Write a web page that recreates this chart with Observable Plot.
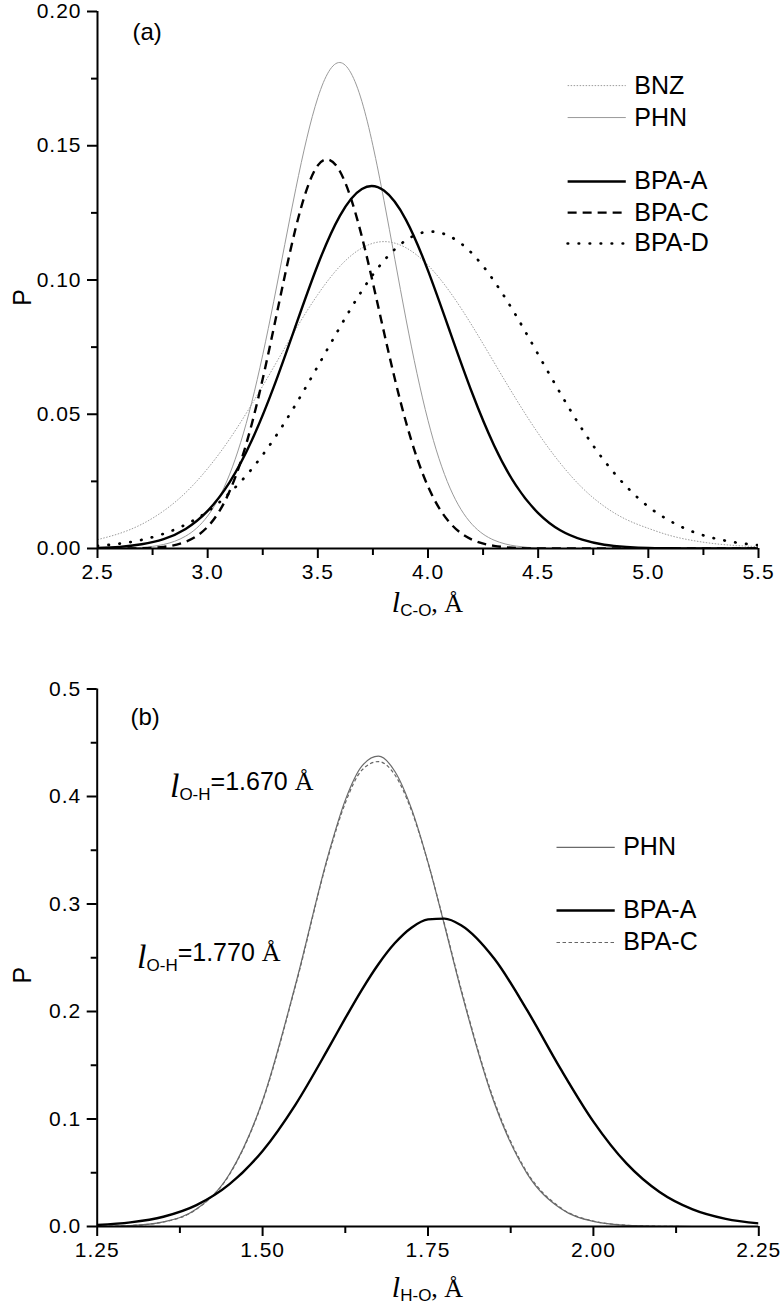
<!DOCTYPE html>
<html><head><meta charset="utf-8">
<script src="https://cdn.jsdelivr.net/npm/d3@7"></script>
<script src="https://cdn.jsdelivr.net/npm/@observablehq/plot@0.6"></script>
<style>
body{margin:0;background:#fff;width:780px;height:1313px;overflow:hidden}
svg{display:block}
</style></head><body><div id="chart"></div>
<script>
// ---------- Panel (a): P vs l(C-O), Å ----------
const xA = [2.5,2.6,2.7,2.8,2.9,3.0,3.1,3.2,3.3,3.4,3.5,3.6,3.7,3.8,3.9,4.0,4.1,4.2,4.3,4.4,4.5,4.6,4.7,4.8,4.9,5.0,5.1,5.2,5.3,5.4,5.5];
const bnzA  = [0.0033,0.0056,0.0090,0.0140,0.0208,0.0298,0.0408,0.0537,0.0676,0.0817,0.0946,0.1051,0.1119,0.1143,0.1120,0.1055,0.0955,0.0830,0.0693,0.0556,0.0429,0.0318,0.0226,0.0157,0.0108,0.0075,0.0048,0.0030,0.0018,0.0011,0.0007];
const phnA  = [0.0000,0.0001,0.0004,0.0015,0.0046,0.0121,0.0277,0.0544,0.0921,0.1340,0.1679,0.1810,0.1665,0.1297,0.0855,0.0477,0.0225,0.0090,0.0031,0.0009,0.0002,0,0,0,0,0,0,0,0,0,0];
const bpaAA = [0.0002,0.0006,0.0016,0.0035,0.0073,0.0140,0.0247,0.0402,0.0602,0.0831,0.1057,0.1239,0.1339,0.1333,0.1224,0.1035,0.0807,0.0580,0.0384,0.0234,0.0132,0.0068,0.0033,0.0014,0.0006,0.0002,0.0001,0,0,0,0];
const bpaCA = [0.0000,0.0000,0.0001,0.0006,0.0025,0.0081,0.0214,0.0463,0.0821,0.1195,0.1427,0.1405,0.1161,0.0806,0.0471,0.0231,0.0095,0.0033,0.0010,0.0002,0,0,0,0,0,0,0,0,0,0,0];
const bpaDA = [0.0010,0.0018,0.0032,0.0055,0.0089,0.0138,0.0207,0.0296,0.0407,0.0537,0.0679,0.0824,0.0960,0.1072,0.1148,0.1180,0.1162,0.1099,0.0996,0.0867,0.0723,0.0579,0.0444,0.0327,0.0231,0.0156,0.0102,0.0063,0.0038,0.0022,0.0012];
const xTicksA = [2.5,3.0,3.5,4.0,4.5,5.0,5.5];
const xMinorA = [2.75,3.25,3.75,4.25,4.75,5.25];
const yTicksA = [0,0.05,0.10,0.15,0.20];
const yMinorA = [0.025,0.075,0.125,0.175];

// ---------- Panel (b): P vs l(H-O), Å ----------
const xB = [1.25,1.30,1.35,1.40,1.45,1.50,1.55,1.60,1.625,1.65,1.675,1.70,1.725,1.75,1.775,1.80,1.85,1.90,1.95,2.00,2.05,2.10,2.15,2.20,2.25];
const phnB  = [0.0002,0.0009,0.0043,0.0162,0.0488,0.1172,0.2256,0.3474,0.3966,0.4282,0.4375,0.4233,0.3887,0.3387,0.2800,0.2195,0.1153,0.0490,0.0169,0.0047,0.0011,0.0002,0,0,0];
const bpaAB = [0.0014,0.0038,0.0091,0.0199,0.0394,0.0703,0.1137,0.1664,0.1938,0.2202,0.2440,0.2637,0.2780,0.2857,0.2864,0.2802,0.2492,0.2010,0.1471,0.0976,0.0587,0.0321,0.0159,0.0071,0.0029];
const bpaCB = [0.0002,0.0009,0.0042,0.0160,0.0484,0.1165,0.2245,0.3458,0.3940,0.4245,0.4325,0.4200,0.3870,0.3385,0.2810,0.2210,0.1170,0.0502,0.0176,0.0050,0.0012,0.0002,0,0,0];
const xTicksB = [1.25,1.50,1.75,2.00,2.25];
const xMinorB = [1.375,1.625,1.875,2.125];
const yTicksB = [0,0.1,0.2,0.3,0.4,0.5];
const yMinorB = [0.05,0.15,0.25,0.35,0.45];

const namesA = ["BNZ","PHN","BPA-A","BPA-C","BPA-D"];
const namesB = ["PHN","BPA-A","BPA-C"];
const peakLabels = ["1.670","1.770"];

// ---------- styling / layout ----------
const fSans = "'Liberation Sans', Arial, Helvetica, sans-serif";
const fSerif = "'Liberation Serif', 'Times New Roman', Times, serif";
const styles = {
  "BNZ":   {stroke:"#9c9c9c", w:1,   dash:"1.5,1.5"},
  "PHN":   {stroke:"#9a9a9a", w:1,   dash:null},
  "BPA-A": {stroke:"#000",    w:2.4, dash:null},
  "BPA-C": {stroke:"#000",    w:2.4, dash:"9,6"},
  "BPA-D": {stroke:"#000",    w:2.7, dash:"0.5,10.5", cap:"round"},
  "PHN_b": {stroke:"#6a6a6a", w:1.2, dash:null},
  "BPA-A_b": {stroke:"#000",  w:2.4, dash:null},
  "BPA-C_b": {stroke:"#666",  w:1.2, dash:"3.5,2.5"}
};
const tickFont = 21;

function series(xs, ys) { return xs.map((x, i) => ({x, y: ys[i]})); }

function rich(svg, x, y, parts, anchor) {
  const t = d3.select(svg).append("text").attr("x", x).attr("y", y)
    .attr("text-anchor", anchor || "start").attr("fill", "black");
  for (const p of parts) {
    t.append("tspan").style("font-family", p.font).style("font-size", p.size + "px")
      .style("font-style", p.italic ? "italic" : "normal").attr("dy", p.dy || 0).text(p.text);
  }
  return t;
}

function panel(cfg) {
  const marks = [];
  // data lines
  cfg.lines.forEach(L => {
    const s = styles[L.style];
    marks.push(Plot.line(series(cfg.xs, L.ys), {x:"x", y:"y", stroke:s.stroke, strokeWidth:s.w,
      strokeDasharray:s.dash || undefined, strokeLinecap:s.cap || "butt", curve:cfg.curve, clip:true}));
  });
  // legend
  cfg.legend.forEach(g => {
    const s = styles[g.style];
    marks.push(Plot.ruleY([g.y], {x1:cfg.legX[0], x2:cfg.legX[1], stroke:s.stroke, strokeWidth:s.w,
      strokeDasharray:s.dash || undefined, strokeLinecap:s.cap || "butt"}));
    marks.push(Plot.text([g.name], {x:cfg.legX[2], y:g.y, text:d=>d, textAnchor:"start",
      lineAnchor:"middle", fontSize:25, fontFamily:fSans, fill:"black"}));
  });
  // panel letter
  marks.push(Plot.text([cfg.letter.t], {x:cfg.letter.x, y:cfg.letter.y, text:d=>d, textAnchor:"start",
    lineAnchor:"middle", fontSize:24, fontFamily:fSans, fill:"black"}));
  // axes
  marks.push(Plot.axisY(cfg.yMinor, {tickSize:6, strokeWidth:2, tickFormat:()=>"", label:null}));
  marks.push(Plot.axisY(cfg.yTicks, {tickSize:10, tickPadding:6, strokeWidth:2, tickFormat:d3.format(cfg.yFmt),
    label:null, fontSize:tickFont, fontFamily:fSans}));
  marks.push(Plot.axisX(cfg.xMinor, {tickSize:7, strokeWidth:2, tickFormat:()=>"", label:null}));
  marks.push(Plot.axisX(cfg.xTicks, {tickSize:10, tickPadding:6, strokeWidth:2, tickFormat:d3.format(cfg.xFmt),
    label:null, fontSize:tickFont, fontFamily:fSans}));
  marks.push(Plot.ruleX([cfg.xDomain[0]], {stroke:"black", strokeWidth:2}));
  marks.push(Plot.ruleY([cfg.yDomain[0]], {stroke:"black", strokeWidth:2}));

  const p = Plot.plot({
    width: 780, height: cfg.height,
    marginLeft: cfg.m[0], marginRight: cfg.m[1], marginTop: cfg.m[2], marginBottom: cfg.m[3],
    x: {domain: cfg.xDomain}, y: {domain: cfg.yDomain},
    style: {fontFamily: fSans, fontSize: tickFont + "px", background: "white", color: "black", overflow: "visible"},
    marks
  });
  // tick-label typography (slightly wide digits as in the original)
  d3.select(p).selectAll('[aria-label$="tick label"] text')
    .style("font-size", tickFont + "px").style("letter-spacing", "1px").style("font-family", fSans);

  const sx = p.scale("x"), sy = p.scale("y");
  const x0 = sx.range[0], x1 = sx.range[1];
  const yb = sy.range[0], yt = sy.range[1];
  // y-axis title "P"
  d3.select(p).append("text").attr("transform", `translate(${x0 - 66},${(yb + yt) / 2 + 18}) rotate(-90)`)
    .attr("text-anchor", "middle").style("font-family", fSans).style("font-size", "25px").attr("fill", "black").text("P");
  // x-axis title
  rich(p, (x0 + x1) / 2, yb + cfg.xTitleDy, [
    {text:"l", font:fSerif, size:30, italic:true},
    {text:cfg.sub, font:fSans, size:17, dy:4},
    {text:", Å", font:fSerif, size:26, dy:-4}
  ], "middle");
  (cfg.annots || []).forEach(a => {
    rich(p, sx.apply(a.x), sy.apply(a.y), [
      {text:"l", font:fSerif, size:34, italic:true, dy:7},
      {text:"O-H", font:fSans, size:17, dy:3},
      {text:"=" + a.v + " ", font:fSans, size:25, dy:-10},
      {text:"Å", font:fSerif, size:26}
    ]);
  });
  return p;
}

const pa = panel({
  xs: xA, height: 640, m: [97, 22, 11, 92], curve: "natural",
  xDomain: [2.5, 5.5], yDomain: [0, 0.2],
  xTicks: xTicksA, xMinor: xMinorA, yTicks: yTicksA, yMinor: yMinorA, xFmt: ".1f", yFmt: ".2f",
  lines: [
    {ys: bnzA, style: "BNZ"}, {ys: phnA, style: "PHN"},
    {ys: bpaDA, style: "BPA-D"}, {ys: bpaCA, style: "BPA-C"}, {ys: bpaAA, style: "BPA-A"}
  ],
  legX: [4.636, 4.9, 4.936],
  legend: [
    {name: namesA[0], style: "BNZ", y: 0.1724},
    {name: namesA[1], style: "PHN", y: 0.1605},
    {name: namesA[2], style: "BPA-A", y: 0.1367},
    {name: namesA[3], style: "BPA-C", y: 0.1251},
    {name: namesA[4], style: "BPA-D", y: 0.1136}
  ],
  letter: {t: "(a)", x: 2.659, y: 0.1922},
  sub: "C-O", xTitleDy: 64
});

const pb = panel({
  xs: xB, height: 673, m: [96.7, 21.7, 48.5, 87], curve: "monotone-x",
  xDomain: [1.25, 2.25], yDomain: [0, 0.5],
  xTicks: xTicksB, xMinor: xMinorB, yTicks: yTicksB, yMinor: yMinorB, xFmt: ".2f", yFmt: ".1f",
  lines: [
    {ys: bpaCB, style: "BPA-C_b"}, {ys: phnB, style: "PHN_b"}, {ys: bpaAB, style: "BPA-A_b"}
  ],
  legX: [1.945, 2.033, 2.045],
  legend: [
    {name: namesB[0], style: "PHN_b", y: 0.3526},
    {name: namesB[1], style: "BPA-A_b", y: 0.294},
    {name: namesB[2], style: "BPA-C_b", y: 0.2642}
  ],
  letter: {t: "(b)", x: 1.3003, y: 0.474},
  annots: [{x: 1.3607, y: 0.4056, v: peakLabels[0]}, {x: 1.311, y: 0.2465, v: peakLabels[1]}],
  sub: "H-O", xTitleDy: 71
});

document.getElementById("chart").append(pa, pb);
</script></body></html>
